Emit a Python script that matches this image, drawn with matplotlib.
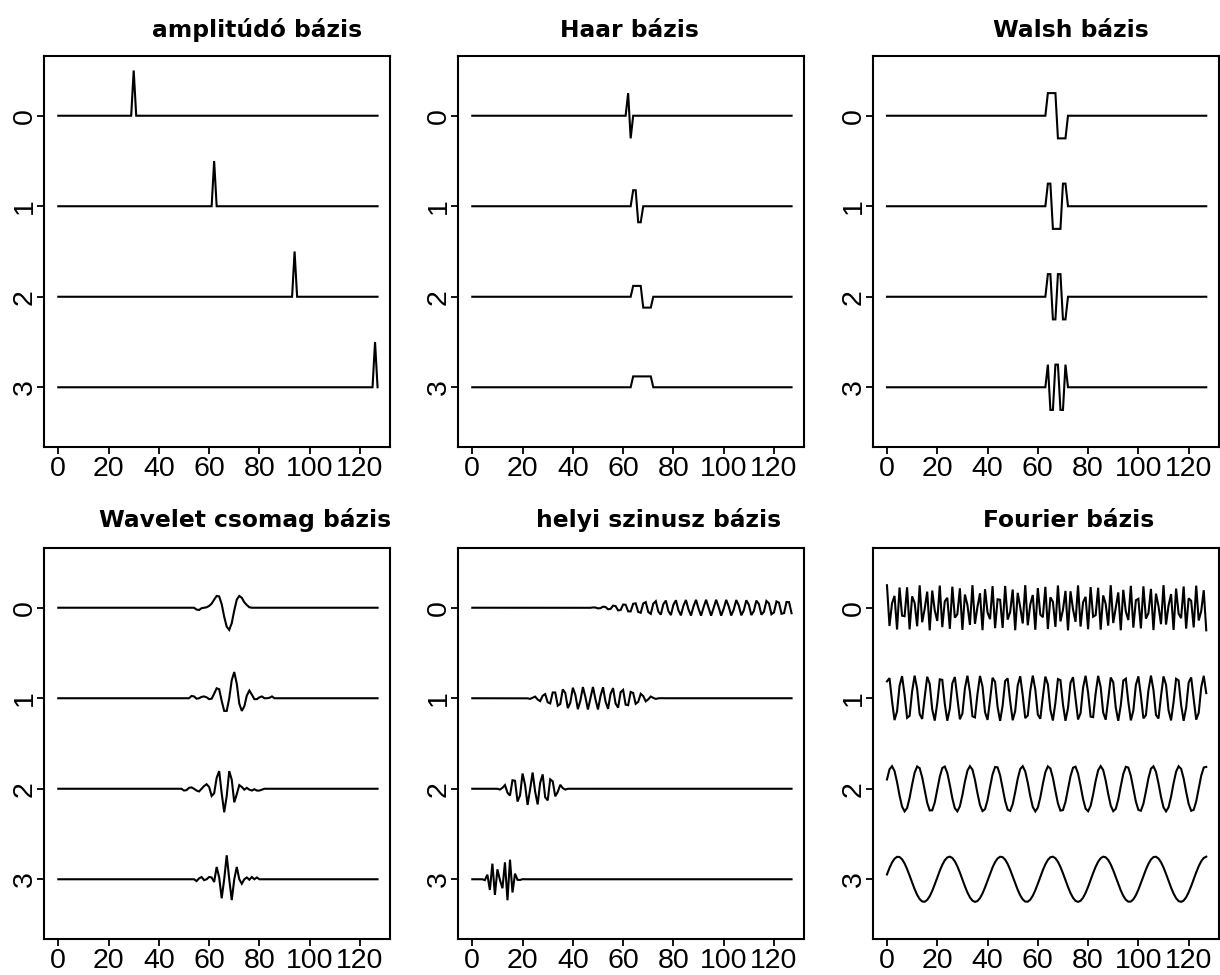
import numpy as np
import matplotlib
matplotlib.use("Agg")
import matplotlib.pyplot as plt

# ---------------------------------------------------------------- data
N = 128
x = np.arange(N)
ROWS = [0, 1, 2, 3]
X_TICKS = [0, 20, 40, 60, 80, 100, 120]

TITLES = ["amplitúdó bázis", "Haar bázis", "Walsh bázis",
          "Wavelet csomag bázis", "helyi szinusz bázis", "Fourier bázis"]

# amplitude (Dirac) basis: one spike per row
SPIKE_POS = [30, 62, 94, 126]
SPIKE_HEIGHT = [0.5, 0.5, 0.5, 0.5]

# Haar basis: first sample index and sample values of each row
HAAR_START = [62, 64, 64, 64]
HAAR_VALUES = [
    [0.25, -0.25],
    [0.177, 0.177, -0.177, -0.177],
    [0.12, 0.12, 0.12, 0.12, -0.12, -0.12, -0.12, -0.12],
    [0.12, 0.12, 0.12, 0.12, 0.12, 0.12, 0.12, 0.12],
]

# Walsh basis: sign patterns on samples 64..71
WALSH_START = [64, 64, 64, 64]
WALSH_AMP = 0.25
WALSH_SIGNS = [
    [1, 1, 1, 1, -1, -1, -1, -1],
    [1, 1, -1, -1, -1, -1, 1, 1],
    [1, 1, -1, -1, 1, 1, -1, -1],
    [1, -1, -1, 1, 1, -1, -1, 1],
]

# wavelet packet basis: first sample index and sample values
WP_START = [54, 52, 49, 54]
WP_VALUES = [
    [0, -0.02, -0.025, -0.005, 0, 0.005, 0.02, 0.045, 0.09, 0.13, 0.125,
     0.04, -0.1, -0.21, -0.245, -0.17, -0.03, 0.09, 0.13, 0.11, 0.06, 0.03,
     0.005, 0],
    [0, 0.025, 0.02, -0.005, 0, 0.015, 0.02, 0.01, -0.01, -0.005, 0.05,
     0.11, 0.1, -0.03, -0.14, -0.14, 0.0, 0.2, 0.29, 0.16, -0.06, -0.14,
     -0.09, 0.03, 0.085, 0.04, -0.01, -0.01, 0.01, 0.02, 0.0, 0.0, 0.005,
     0.02, 0],
    [0, -0.02, -0.015, 0.01, 0.015, 0.0, -0.02, -0.03, 0.0, 0.03, 0.05,
     0.02, -0.08, -0.05, 0.12, 0.195, -0.05, -0.26, -0.08, 0.195, 0.1,
     -0.15, -0.06, 0.04, 0.02, -0.01, 0.01, -0.01, -0.02, -0.005, -0.02,
     -0.02, -0.01, 0],
    [0, -0.02, 0.01, 0.025, -0.01, 0.0, 0.025, 0.02, -0.03, 0.136, 0.02,
     -0.21, 0.0, 0.265, 0.0, -0.23, 0.0, 0.136, 0.0, -0.05, 0.0, 0.02,
     -0.005, 0.025, 0.0, 0.02, 0.0, 0],
]

# local sine basis: window edges, taper half-width, frequency, amplitude
LS_LEFT = [64, 32, 16, 8]
LS_RIGHT = [200, 64, 32, 16]
LS_TAPER = [20, 12, 6.5, 4.3]
LS_FREQ = [0.246, 0.258, 0.266, 0.43]      # cycles per sample
LS_AMP = [0.088, 0.125, 0.18, 0.25]

# Fourier basis: period in samples, phase shift, amplitude
FOURIER_PERIOD = [2.62, 5.22, 10.39, 20.45]
FOURIER_SHIFT = [0.7, 0.7, 0.7, 0.7]
FOURIER_AMP = [0.25, 0.25, 0.25, 0.25]


# ---------------------------------------------------------------- curves
def from_samples(start, values):
    y = np.zeros(N)
    y[start:start + len(values)] = values
    return y


def bell(t):
    t = np.clip(t, -1, 1)
    return np.sin(np.pi / 4 * (1 + np.sin(np.pi / 2 * t)))


def local_sine(k):
    a, b, e = LS_LEFT[k], LS_RIGHT[k], LS_TAPER[k]
    env = bell((x - a) / e) * bell((b - x) / e)
    return LS_AMP[k] * env * np.sin(2 * np.pi * LS_FREQ[k] * (x - a + 0.5))


def fourier(k):
    return FOURIER_AMP[k] * np.sin(2 * np.pi * (x + FOURIER_SHIFT[k]) / FOURIER_PERIOD[k])


curves = [
    [from_samples(SPIKE_POS[k], [SPIKE_HEIGHT[k]]) for k in ROWS],
    [from_samples(HAAR_START[k], HAAR_VALUES[k]) for k in ROWS],
    [from_samples(WALSH_START[k], WALSH_AMP * np.array(WALSH_SIGNS[k])) for k in ROWS],
    [from_samples(WP_START[k], WP_VALUES[k]) for k in ROWS],
    [local_sine(k) for k in ROWS],
    [fourier(k) for k in ROWS],
]

# ---------------------------------------------------------------- figure
W, H = 1220, 975
fig = plt.figure(figsize=(W / 100, H / 100), dpi=100)
fig.patch.set_facecolor("white")

col_left = [44.2, 458.2, 872.9]
ax_w = 346
px_per_unit = 2.514
x_lo = -5.6
x_hi = x_lo + ax_w / px_per_unit
row_top = [56, 548]
ax_h = 391
title_x = [257.5, 629.5, 1071, 245, 658.8, 1068.3]
title_base = [37, 527]

tick_font = {"family": ["Liberation Sans", "DejaVu Sans"], "size": 20.5}
title_font = {"family": ["DejaVu Sans"], "size": 16.8, "weight": "bold"}

for p in range(6):
    r, c = divmod(p, 3)
    ax = fig.add_axes([col_left[c] / W, 1 - (row_top[r] + ax_h) / H, ax_w / W, ax_h / H])
    for k in ROWS:
        ax.plot(x, k - curves[p][k], color="black", lw=1.5,
                solid_joinstyle="miter")
    ax.set_xlim(x_lo, x_hi)
    ax.set_ylim(3.66, -0.66)
    ax.set_xticks(X_TICKS)
    ax.set_xticklabels([str(v) for v in X_TICKS], fontdict=tick_font)
    ax.set_yticks(ROWS)
    ax.set_yticklabels([str(v) for v in ROWS], fontdict=tick_font,
                       rotation=90, va="center")
    ax.tick_params(direction="out", length=5, width=1.3, color="black",
                   pad=1.5)
    ax.tick_params(axis="y", pad=-0.5)
    for s in ax.spines.values():
        s.set_linewidth(1.5)
    fig.text(title_x[p] / W, 1 - title_base[r] / H, TITLES[p],
             ha="center", va="baseline", fontdict=title_font)

fig.savefig("out.png", dpi=100, facecolor="white")
